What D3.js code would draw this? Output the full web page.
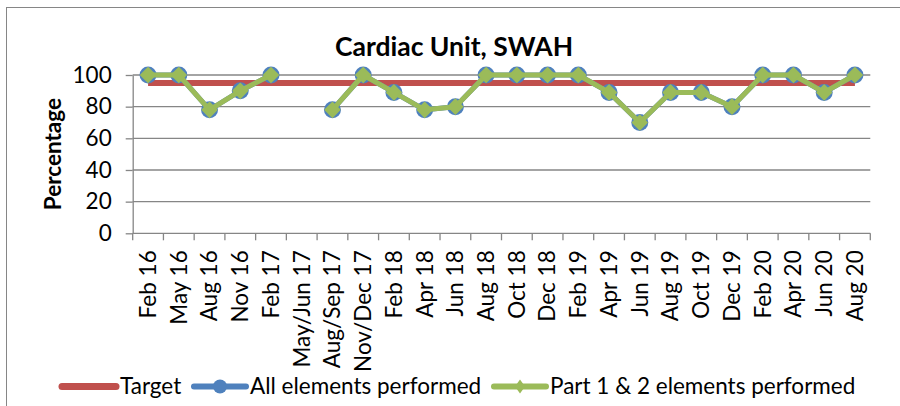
<!DOCTYPE html>
<html>
<head>
<meta charset="utf-8">
<script src="https://cdn.jsdelivr.net/npm/d3@7"></script>
<style>
  body { margin: 0; background: #fff; }
  svg { display: block; font-family: Lato, "Open Sans", sans-serif; }
</style>
</head>
<body>
<div id="chart"></div>
<script>
// chart data
const categories = ["Feb 16", "May 16", "Aug 16", "Nov 16", "Feb 17", "May/Jun 17", "Aug/Sep 17",
  "Nov/Dec 17", "Feb 18", "Apr 18", "Jun 18", "Aug 18", "Oct 18", "Dec 18", "Feb 19", "Apr 19",
  "Jun 19", "Aug 19", "Oct 19", "Dec 19", "Feb 20", "Apr 20", "Jun 20", "Aug 20"];
const target = categories.map(() => 95);
const allElements = [100, 100, 78, 90, 100, null, 78, 100, 89, 78, 80, 100, 100, 100, 100, 89,
  70, 89, 89, 80, 100, 100, 89, 100];
const part12Elements = [100, 100, 78, 90, 100, null, 78, 100, 89, 78, 80, 100, 100, 100, 100, 89,
  70, 89, 89, 80, 100, 100, 89, 100];
const yTicks = [0, 20, 40, 60, 80, 100];

const width = 900, height = 406;
const margin = { left: 132.7, right: 900 - 870.3, top: 75, bottom: 406 - 233.3 };
const gridColor = "#868686";
const fontSize = 22.5;

const svg = d3.select("#chart").append("svg")
  .attr("width", width)
  .attr("height", height);

// outer chart frame (runs off right/bottom edge like the source)
svg.append("rect")
  .attr("x", 6.5).attr("y", 7.5)
  .attr("width", 910).attr("height", 420)
  .attr("fill", "none")
  .attr("stroke", gridColor)
  .attr("stroke-width", 1);

const x = d3.scaleBand()
  .domain(categories)
  .range([margin.left, width - margin.right]);

const y = d3.scaleLinear()
  .domain([0, 100])
  .range([height - margin.bottom, margin.top]);

// gridlines
svg.append("g")
  .selectAll("line")
  .data(yTicks.filter(d => d > 0))
  .enter().append("line")
  .attr("x1", margin.left).attr("x2", width - margin.right)
  .attr("y1", d => y(d)).attr("y2", d => y(d))
  .attr("stroke", gridColor)
  .attr("stroke-width", 1.3);

// y axis
const yAxis = svg.append("g")
  .attr("transform", `translate(${margin.left},0)`)
  .call(d3.axisLeft(y).tickValues(yTicks).tickSize(7).tickPadding(14).tickSizeOuter(0));
yAxis.select(".domain").attr("stroke", gridColor).attr("stroke-width", 1.3);
yAxis.selectAll(".tick line").attr("stroke", gridColor).attr("stroke-width", 1.3);
yAxis.selectAll(".tick text")
  .attr("font-family", "Lato, sans-serif")
  .attr("font-size", fontSize)
  .attr("fill", "#000");

// x axis, ticks on band edges
const xAxis = svg.append("g")
  .attr("transform", `translate(0,${y(0)})`);
xAxis.append("line")
  .attr("x1", margin.left).attr("x2", width - margin.right)
  .attr("stroke", gridColor).attr("stroke-width", 1.3);
xAxis.selectAll(".edge")
  .data(categories.concat(["end"]))
  .enter().append("line")
  .attr("class", "edge")
  .attr("x1", (d, i) => margin.left + i * x.step())
  .attr("x2", (d, i) => margin.left + i * x.step())
  .attr("y1", 0).attr("y2", 7)
  .attr("stroke", gridColor).attr("stroke-width", 1.3);
xAxis.selectAll(".lbl")
  .data(categories)
  .enter().append("text")
  .attr("class", "lbl")
  .attr("transform", d => `translate(${x(d) + x.bandwidth() / 2},17) rotate(-90)`)
  .attr("dy", "0.35em")
  .attr("text-anchor", "end")
  .attr("font-size", fontSize)
  .attr("fill", "#000")
  .text(d => d);

// axis title
svg.append("text")
  .attr("transform", `translate(61,${(y(0) + y(100)) / 2}) rotate(-90)`)
  .attr("text-anchor", "middle")
  .attr("font-weight", "bold")
  .attr("font-size", fontSize)
  .text("Percentage");

// chart title
svg.append("text")
  .attr("x", 454).attr("y", 56)
  .attr("text-anchor", "middle")
  .attr("font-weight", "bold")
  .attr("font-size", 26.5)
  .text("Cardiac Unit, SWAH");

const cx = d => x(d) + x.bandwidth() / 2;
const line = d3.line()
  .defined(d => d.v != null)
  .x(d => cx(d.c))
  .y(d => y(d.v));
const pts = arr => categories.map((c, i) => ({ c: c, v: arr[i] }));

// target
svg.append("path")
  .datum(pts(target))
  .attr("d", line)
  .attr("fill", "none")
  .attr("stroke", "#C0504D")
  .attr("stroke-width", 6);

// all elements (blue, circles)
svg.append("path")
  .datum(pts(allElements))
  .attr("d", line)
  .attr("fill", "none")
  .attr("stroke", "#4F81BD")
  .attr("stroke-width", 5);
svg.append("g")
  .selectAll("circle")
  .data(pts(allElements).filter(d => d.v != null))
  .enter().append("circle")
  .attr("cx", d => cx(d.c))
  .attr("cy", d => y(d.v))
  .attr("r", 8.5)
  .attr("fill", "#4F81BD");

// part 1 & 2 (green, diamonds)
svg.append("path")
  .datum(pts(part12Elements))
  .attr("d", line)
  .attr("fill", "none")
  .attr("stroke", "#9BBB59")
  .attr("stroke-width", 5)
  .attr("stroke-linejoin", "round");
const diamond = d3.symbol().type(d3.symbolDiamond2).size(135);
svg.append("g")
  .selectAll("path")
  .data(pts(part12Elements).filter(d => d.v != null))
  .enter().append("path")
  .attr("transform", d => `translate(${cx(d.c)},${y(d.v)})`)
  .attr("d", diamond)
  .attr("fill", "#9BBB59")
  .attr("stroke", "#9BBB59")
  .attr("stroke-width", 1.5)
  .attr("stroke-linejoin", "round");

// legend
const legendItems = [
  { name: "Target", color: "#C0504D", x0: 62, x1: 116, tx: 120, marker: null, sw: 7 },
  { name: "All elements performed", color: "#4F81BD", x0: 194, x1: 246, tx: 250, marker: "circle", sw: 6 },
  { name: "Part 1 & 2 elements performed", color: "#9BBB59", x0: 494, x1: 546, tx: 550, marker: "diamond", sw: 6 }
];
const legend = svg.append("g").attr("transform", "translate(0,386.5)");
legendItems.forEach(it => {
  legend.append("line")
    .attr("x1", it.x0).attr("x2", it.x1)
    .attr("stroke", it.color).attr("stroke-width", it.sw)
    .attr("stroke-linecap", "round");
  if (it.marker === "circle") {
    legend.append("circle").attr("cx", (it.x0 + it.x1) / 2).attr("r", 7).attr("fill", it.color);
  } else if (it.marker === "diamond") {
    legend.append("path")
      .attr("transform", `translate(${(it.x0 + it.x1) / 2},0) scale(0.8,1.1)`)
      .attr("d", d3.symbol().type(d3.symbolDiamond2).size(100))
      .attr("fill", it.color);
  }
  legend.append("text")
    .attr("x", it.tx).attr("dy", "0.35em")
    .attr("font-size", fontSize)
    .text(it.name);
});
</script>
</body>
</html>
